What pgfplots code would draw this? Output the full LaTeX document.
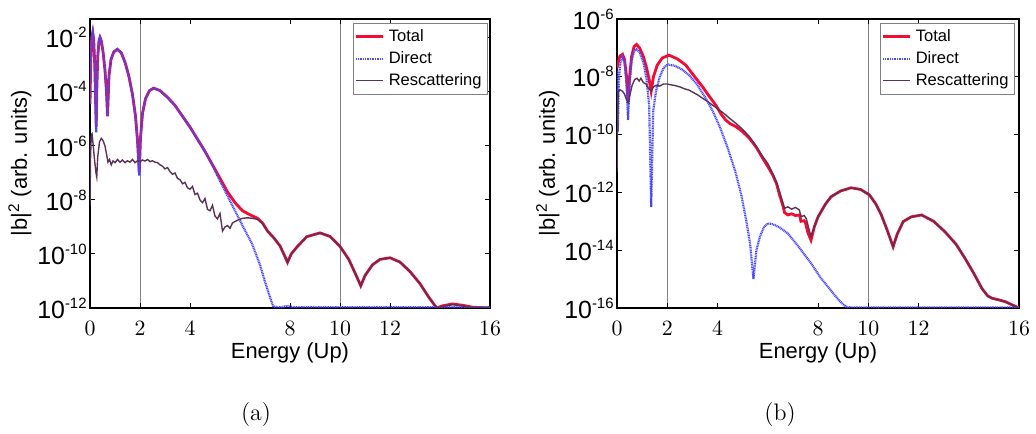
\documentclass[border=0pt]{standalone}
\usepackage{fontspec}
\usepackage{pgfplots}
\pgfplotsset{compat=1.18}
\newfontfamily\arial{Liberation Sans}
\definecolor{tot}{RGB}{245,10,50}
\definecolor{dir}{RGB}{70,70,255}
\definecolor{res}{RGB}{90,50,85}
\newcommand{\ytl}[1]{10\raisebox{5bp}{\fontsize{7.5}{8}\selectfont #1}}

% ---------- data: energy (Up), log10 |b|^2 ----------
\pgfplotstableread{
E L
0.00 -4.45
0.03 -2.8
0.07 -2.0
0.11 -1.8
0.15 -2.1
0.19 -3.0
0.23 -4.6
0.25 -5.3
0.27 -4.0
0.31 -2.7
0.36 -2.1
0.40 -1.98
0.45 -2.1
0.52 -2.5
0.60 -3.2
0.66 -4.0
0.70 -4.9
0.72 -4.4
0.76 -3.4
0.84 -2.8
0.95 -2.52
1.09 -2.42
1.25 -2.55
1.40 -2.9
1.55 -3.4
1.70 -4.1
1.82 -4.9
1.90 -5.8
1.97 -7.0
2.02 -5.7
2.10 -4.8
2.22 -4.25
2.38 -3.95
2.55 -3.86
2.80 -3.95
3.10 -4.2
3.40 -4.5
3.70 -4.9
4.00 -5.3
4.30 -5.75
4.60 -6.2
4.90 -6.7
5.20 -7.2
5.50 -7.7
5.80 -8.1
6.10 -8.4
6.40 -8.55
6.70 -8.68
6.90 -8.85
7.10 -9.15
7.35 -9.4
7.60 -9.7
7.80 -10.1
7.90 -10.31
8.05 -10.0
8.27 -9.75
8.67 -9.36
9.20 -9.22
9.60 -9.35
10.00 -9.72
10.35 -10.2
10.65 -10.8
10.83 -11.18
11.00 -10.8
11.30 -10.4
11.60 -10.2
12.00 -10.14
12.40 -10.3
12.80 -10.65
13.20 -11.1
13.55 -11.6
13.87 -12.0
14.10 -11.92
14.50 -11.85
14.90 -11.9
15.30 -11.97
16.00 -12.0
}\totA

\pgfplotstableread{
E L
0.00 -4.45
0.03 -2.8
0.07 -2.0
0.11 -1.8
0.15 -2.1
0.19 -3.0
0.23 -4.8
0.25 -5.5
0.27 -4.0
0.31 -2.7
0.36 -2.1
0.40 -1.98
0.45 -2.1
0.52 -2.5
0.60 -3.2
0.66 -4.0
0.70 -4.9
0.72 -4.4
0.76 -3.4
0.84 -2.8
0.95 -2.52
1.09 -2.42
1.25 -2.55
1.40 -2.9
1.55 -3.4
1.70 -4.1
1.82 -4.9
1.90 -5.8
1.97 -7.1
2.02 -5.7
2.10 -4.8
2.22 -4.25
2.38 -3.95
2.55 -3.86
2.80 -3.95
3.10 -4.2
3.40 -4.5
3.70 -4.9
4.00 -5.3
4.30 -5.75
4.60 -6.2
4.90 -6.72
5.20 -7.3
5.50 -7.85
5.80 -8.4
6.10 -8.95
6.47 -9.6
6.80 -10.4
7.00 -11.03
7.20 -11.6
7.33 -11.95
7.60 -11.97
7.90 -11.93
8.20 -11.97
16.00 -11.97
}\dirA

\pgfplotstableread{
E L
0.00 -8.2
0.02 -6.5
0.05 -5.6
0.08 -5.55
0.12 -5.9
0.18 -6.5
0.24 -7.0
0.27 -7.15
0.31 -6.4
0.38 -5.85
0.45 -5.72
0.52 -5.8
0.60 -6.0
0.66 -6.3
0.72 -6.6
0.78 -6.5
0.85 -6.7
0.92 -6.55
1.00 -6.62
1.10 -6.5
1.20 -6.6
1.30 -6.52
1.40 -6.62
1.50 -6.55
1.60 -6.6
1.70 -6.5
1.80 -6.62
1.90 -6.55
2.00 -6.58
2.10 -6.52
2.20 -6.56
2.30 -6.5
2.40 -6.58
2.50 -6.55
2.60 -6.6
2.70 -6.62
2.80 -6.7
2.90 -6.75
3.00 -6.85
3.10 -6.8
3.20 -6.95
3.30 -7.05
3.40 -7.0
3.50 -7.2
3.60 -7.25
3.70 -7.4
3.80 -7.35
3.90 -7.55
4.00 -7.6
4.10 -7.5
4.20 -7.8
4.30 -7.75
4.40 -8.0
4.50 -8.1
4.60 -7.95
4.70 -8.35
4.80 -8.4
4.90 -8.2
5.00 -8.6
5.10 -8.7
5.20 -8.5
5.30 -9.15
5.40 -9.0
5.50 -8.95
5.60 -9.05
5.70 -8.85
5.90 -8.75
6.10 -8.68
6.30 -8.66
6.50 -8.68
6.70 -8.72
6.90 -8.88
7.10 -9.15
7.35 -9.4
7.60 -9.7
7.80 -10.1
7.90 -10.31
8.05 -10.0
8.27 -9.75
8.67 -9.36
9.20 -9.22
9.60 -9.35
10.00 -9.72
10.35 -10.2
10.65 -10.8
10.83 -11.18
11.00 -10.8
11.30 -10.4
11.60 -10.2
12.00 -10.14
12.40 -10.3
12.80 -10.65
13.20 -11.1
13.55 -11.6
13.87 -12.0
14.10 -11.94
14.50 -11.87
14.90 -11.92
15.30 -11.98
16.00 -12.0
}\resA

\pgfplotstableread{
E L
0.00 -7.7
0.06 -7.45
0.12 -7.28
0.22 -7.22
0.30 -7.4
0.38 -8.0
0.44 -8.85
0.50 -8.0
0.58 -7.3
0.68 -6.95
0.78 -6.88
0.90 -7.0
1.05 -7.3
1.18 -7.7
1.28 -8.1
1.36 -8.5
1.45 -8.0
1.60 -7.6
1.80 -7.35
2.07 -7.25
2.40 -7.38
2.73 -7.59
3.05 -7.95
3.40 -8.34
3.65 -8.65
3.93 -8.98
4.15 -9.3
4.33 -9.5
4.50 -9.62
4.73 -9.72
5.00 -9.9
5.27 -10.13
5.55 -10.45
5.80 -10.82
6.00 -11.1
6.20 -11.4
6.35 -11.7
6.47 -12.09
6.60 -12.45
6.67 -12.7
6.80 -12.78
6.95 -12.74
7.10 -12.8
7.27 -12.78
7.32 -13.0
7.45 -12.98
7.50 -13.05
7.60 -13.4
7.72 -13.65
7.85 -13.2
8.00 -12.85
8.12 -12.67
8.30 -12.4
8.52 -12.15
8.90 -11.95
9.32 -11.84
9.70 -11.9
10.05 -12.09
10.30 -12.4
10.52 -12.78
10.75 -13.3
10.99 -13.88
11.15 -13.45
11.39 -13.01
11.70 -12.85
12.12 -12.78
12.60 -13.0
13.05 -13.36
13.50 -13.8
13.85 -14.28
14.20 -14.8
14.52 -15.32
14.75 -15.58
14.92 -15.66
15.20 -15.72
15.45 -15.78
15.75 -15.9
16.00 -16.0
}\totB

\pgfplotstableread{
E L
0.00 -7.75
0.03 -9.9
0.08 -8.0
0.14 -7.5
0.22 -7.3
0.30 -7.5
0.38 -8.3
0.44 -9.49
0.50 -8.3
0.58 -7.45
0.68 -7.1
0.78 -7.05
0.90 -7.15
1.05 -7.5
1.18 -8.1
1.28 -9.0
1.36 -12.5
1.44 -9.2
1.55 -8.5
1.70 -8.0
1.85 -7.7
2.00 -7.57
2.30 -7.62
2.60 -7.75
2.90 -7.97
3.20 -8.28
3.50 -8.7
3.80 -9.17
4.10 -9.75
4.40 -10.45
4.70 -11.25
4.95 -12.1
5.15 -13.0
5.30 -13.8
5.43 -15.0
5.55 -14.0
5.70 -13.5
5.85 -13.2
6.00 -13.07
6.20 -13.1
6.45 -13.2
6.80 -13.42
7.20 -13.85
7.72 -14.45
8.10 -14.95
8.52 -15.4
8.85 -15.75
9.10 -15.95
9.30 -15.98
16.00 -15.98
}\dirB

\pgfplotstableread{
E L
0.00 -11.3
0.02 -9.5
0.05 -8.5
0.12 -8.45
0.22 -8.5
0.30 -8.6
0.38 -8.8
0.46 -8.9
0.52 -8.6
0.60 -8.3
0.70 -8.1
0.80 -8.05
0.88 -8.15
0.95 -8.05
1.05 -8.2
1.15 -8.25
1.25 -8.4
1.36 -8.48
1.45 -8.35
1.55 -8.3
1.70 -8.32
1.85 -8.25
2.00 -8.25
2.15 -8.28
2.30 -8.3
2.50 -8.35
2.70 -8.42
2.87 -8.46
3.05 -8.55
3.20 -8.62
3.40 -8.74
3.60 -8.85
3.80 -8.98
4.00 -9.1
4.15 -9.2
4.33 -9.32
4.50 -9.45
4.73 -9.61
5.00 -9.82
5.27 -10.07
5.50 -10.35
5.80 -10.76
6.00 -11.0
6.20 -11.35
6.35 -11.65
6.47 -11.97
6.60 -12.35
6.67 -12.55
6.80 -12.5
6.95 -12.58
7.10 -12.52
7.25 -12.6
7.33 -12.84
7.45 -12.8
7.53 -12.9
7.65 -13.3
7.72 -13.53
7.85 -13.2
8.00 -12.85
8.12 -12.67
8.30 -12.4
8.52 -12.15
8.90 -11.95
9.32 -11.84
9.70 -11.9
10.05 -12.09
10.30 -12.4
10.52 -12.78
10.75 -13.3
10.99 -13.88
11.15 -13.45
11.39 -13.01
11.70 -12.85
12.12 -12.78
12.60 -13.0
13.05 -13.36
13.50 -13.8
13.85 -14.28
14.20 -14.8
14.52 -15.32
14.75 -15.58
14.92 -15.66
15.20 -15.72
15.45 -15.78
15.75 -15.9
16.00 -16.0
}\resB

\pgfplotsset{
  panel/.style={
    scale only axis, height=144.5bp,
    xmin=0, xmax=16, xtick={0,2,4,8,10,12,16},
    tick align=inside, major tick length=2.5bp,
    tick style={black, line width=0.5bp},
    axis line style={line width=0.65bp},
    xticklabel style={font=\arial\fontsize{10.5}{12}\selectfont, yshift=-3bp},
    yticklabel style={font=\arial\fontsize{12.5}{14}\selectfont, inner xsep=1.5bp},
    xlabel={Energy (Up)},
    ylabel={|b|\textsuperscript{2} (arb. units)},
    label style={font=\arial\fontsize{11}{13}\selectfont},
    xlabel style={at={(axis description cs:0.5,-0.1557)}, anchor=center},
    extra x ticks={2,10}, extra x tick labels={},
    extra x tick style={grid=major, major grid style={gray, line width=0.5bp}},
    legend style={at={(axis description cs:1,1)}, anchor=north east,
      font=\arial\fontsize{8.3}{10}\selectfont, draw=gray, line width=0.4bp,
      inner xsep=1bp, inner ysep=1bp, row sep=-0.5bp, cells={anchor=west}},
    legend image code/.code={\draw[#1] (0bp,0bp) -- (13.5bp,0bp);},
  },
  ptot/.style={color=tot, line width=1.4bp, no markers},
  pdir/.style={color=dir, line width=1.1bp, dash pattern=on 0.5bp off 0.35bp, no markers},
  pres/.style={color=res, line width=0.7bp, no markers},
}

\begin{document}
\begin{tikzpicture}
\useasboundingbox (0,0) rectangle (518bp,217bp);
\begin{axis}[panel, width=200bp, at={(45bp,63bp)}, anchor=south west,
  ymin=-12, ymax=-1.3,
  ytick={-12,-10,-8,-6,-4,-2},
  yticklabels={\ytl{-12},\ytl{-10},\ytl{-8},\ytl{-6},\ytl{-4},\ytl{-2}},
  ylabel style={at={(axis description cs:-0.175,0.5)}, anchor=center},
  legend style={xshift=-1bp, yshift=-2bp}]
\addplot[ptot] table[x=E,y=L] {\totA};
\addplot[pdir] table[x=E,y=L] {\dirA};
\addplot[pres] table[x=E,y=L] {\resA};
\legend{Total,Direct,Rescattering}
\end{axis}
\begin{axis}[panel, width=201bp, at={(308.5bp,63bp)}, anchor=south west,
  ymin=-16, ymax=-6,
  ytick={-16,-14,-12,-10,-8,-6},
  yticklabels={\ytl{-16},\ytl{-14},\ytl{-12},\ytl{-10},\ytl{-8},\ytl{-6}},
  ylabel style={at={(axis description cs:-0.172,0.5)}, anchor=center},
  legend style={xshift=-2bp, yshift=-2bp}]
\addplot[ptot] table[x=E,y=L] {\totB};
\addplot[pdir] table[x=E,y=L] {\dirB};
\addplot[pres] table[x=E,y=L] {\resB};
\legend{Total,Direct,Rescattering}
\end{axis}
\node[font=\fontsize{12}{14}\selectfont] at (128bp,9.5bp) {(a)};
\node[font=\fontsize{12}{14}\selectfont] at (390bp,9.5bp) {(b)};
\end{tikzpicture}
\end{document}
